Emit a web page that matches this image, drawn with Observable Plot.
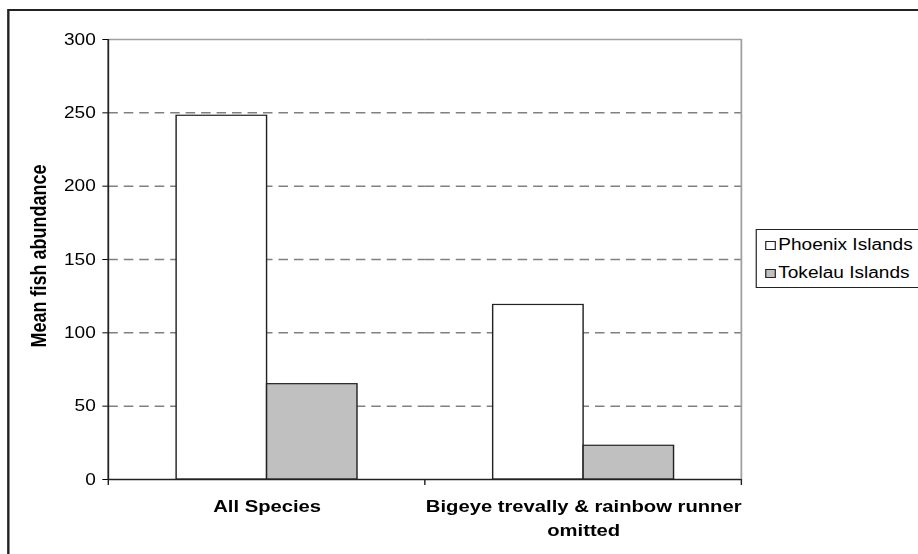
<!DOCTYPE html>
<html><head><meta charset="utf-8">
<script src="https://cdn.jsdelivr.net/npm/d3@7"></script>
<script src="https://cdn.jsdelivr.net/npm/@observablehq/plot@0.6"></script>
<style>
html,body{margin:0;padding:0;background:#fff;}
#page{position:relative;width:918px;height:554px;overflow:hidden;font-family:"Liberation Sans",Arial,sans-serif;color:#000;}
#stretch{position:absolute;left:0;top:0;width:771px;height:554px;transform:scaleX(1.19);transform-origin:0 0;}
#border{position:absolute;left:6px;top:9px;width:900px;height:700px;border:2px solid #222;background:transparent;pointer-events:none;}
#chart{position:absolute;left:0;top:0;}
#ytitle{position:absolute;left:33px;top:256px;transform:translate(-50%,-50%) rotate(-90deg);white-space:nowrap;font-weight:bold;font-size:18px;}
#legend{position:absolute;left:635px;top:229px;width:200px;height:57px;border:1px solid #222;background:#fff;}
.item{position:absolute;left:7px;height:20px;display:flex;align-items:center;font-size:16px;white-space:nowrap;}
.sw{width:7px;height:7px;border:1px solid #222;margin-right:2px;}
</style></head>
<body>
<div id="page"><div id="stretch">
<div id="chart"></div>
<div id="ytitle"></div>
<div id="legend"></div>
<div id="border"></div>
</div></div>
<script>
const categories = ["All Species", "Bigeye trevally & rainbow runner omitted"];
const categoryLabels = ["All Species", "Bigeye trevally & rainbow runner\nomitted"];
const series = ["Phoenix Islands", "Tokelau Islands"];
const colors = ["#ffffff", "#c0c0c0"];
const phoenix = [248, 119];
const tokelau = [65, 23];
const yTicks = [0, 50, 100, 150, 200, 250, 300];
const gridTicks = [50, 100, 150, 200, 250];
const yTitle = "Mean fish abundance";

const data = categories.flatMap((c, i) => [
  {category: c, series: series[0], value: phoenix[i]},
  {category: c, series: series[1], value: tokelau[i]}
]);

const plot = Plot.plot({
  width: 771, height: 554,
  marginLeft: 90, marginRight: 148, marginTop: 39, marginBottom: 75,
  style: {fontFamily: "'Liberation Sans', Arial, sans-serif", fontSize: "16px", color: "#000", background: "transparent", overflow: "visible"},
  fx: {domain: categories, paddingInner: 0, paddingOuter: 0, label: null},
  x: {domain: series, paddingInner: 0, paddingOuter: 0.75, axis: null},
  y: {domain: [0, 300], label: null},
  color: {domain: series, range: colors},
  marks: [
    Plot.gridY(gridTicks, {stroke: "#808080", strokeOpacity: 1, strokeDasharray: "8,5", strokeWidth: 1.5}),
    Plot.ruleY([300], {stroke: "#a0a0a0", strokeWidth: 1.5}),
    Plot.barY(data, {fx: "category", x: "series", y: "value", fill: "series", stroke: "#222", strokeWidth: 1.2}),
    Plot.ruleY([0], {stroke: "#222", strokeWidth: 1.5}),
    Plot.axisY({ticks: yTicks, tickSize: 5, tickPadding: 6, label: null, fontSize: 16}),
    Plot.axisFx({anchor: "bottom", tickSize: 0, tickPadding: 16, label: null, fontSize: 17, fontWeight: "bold", lineHeight: 1.4,
      tickFormat: c => categoryLabels[categories.indexOf(c)]})
  ]
});
document.getElementById("chart").append(plot);

// axis lines and category boundary ticks from the plot's own scales
const fx = plot.scale("fx"), y = plot.scale("y");
const svg = d3.select(plot);
const x0 = fx.apply(categories[0]);
const bounds = [x0, ...categories.map(c => fx.apply(c) + fx.bandwidth)];
const yTop = y.apply(300), yBot = y.apply(0);
svg.append("line").attr("x1", bounds[bounds.length - 1]).attr("x2", bounds[bounds.length - 1])
  .attr("y1", yTop).attr("y2", yBot).attr("stroke", "#a0a0a0").attr("stroke-width", 1.5);
svg.append("line").attr("x1", x0).attr("x2", x0).attr("y1", yTop).attr("y2", yBot)
  .attr("stroke", "#222").attr("stroke-width", 1.5);
svg.selectAll("line.ctick").data(bounds).join("line").attr("class", "ctick")
  .attr("x1", d => d).attr("x2", d => d).attr("y1", yBot).attr("y2", yBot + 6)
  .attr("stroke", "#222").attr("stroke-width", 1.2);

document.getElementById("ytitle").textContent = yTitle;
const legend = d3.select("#legend");
series.forEach((s, i) => {
  const item = legend.append("div").attr("class", "item").style("top", (5 + i * 28) + "px");
  item.append("div").attr("class", "sw").style("background", colors[i]);
  item.append("span").text(s);
});
</script>
</body></html>
